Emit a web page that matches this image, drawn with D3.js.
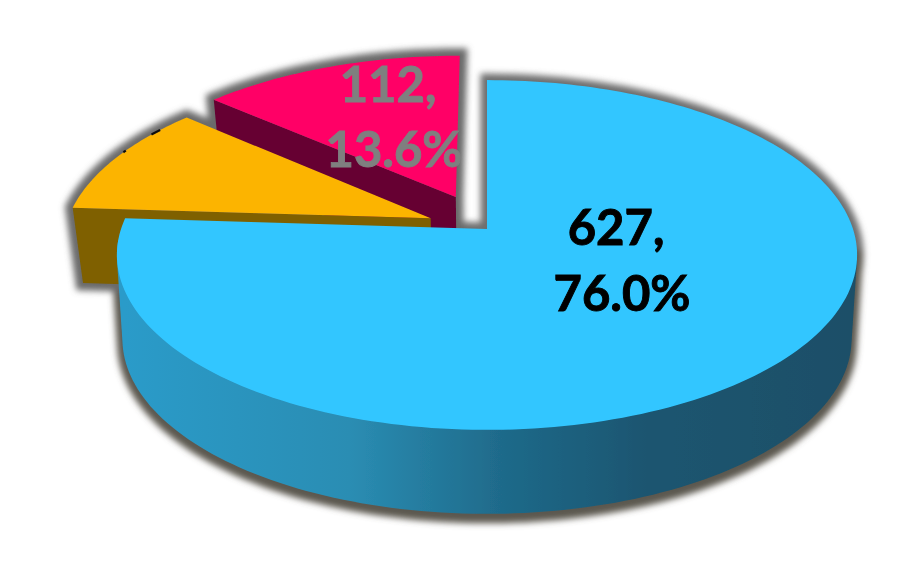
<!DOCTYPE html>
<html><head><meta charset="utf-8">
<script src="https://cdn.jsdelivr.net/npm/d3@7"></script>
<style>html,body{margin:0;padding:0;background:#fff}svg{display:block}</style>
</head><body><svg id="c" width="911" height="570"></svg>
<script>
// Data
const values = [627, 86, 112];
const explode = [0, 0.168, 0.212];
const topColors = ["#33c6ff", "#fcb406", "#ff0066"];
const wallColors = ["#2f9fce", "#7f6000", "#660033"];
const labelColors = ["#000000", "#000000", "#7f7f7f"];
const showLabel = [true, false, true];
const labelPos = [[619, 228, 294], null, [391, 85, 150]];
const gradientStops = [[0, "#2c9bc9"], [0.31, "#2a8db3"], [0.52, "#1f6a8a"], [0.72, "#1a5570"], [1, "#1a4f68"]];
const hiddenLabelBits = [[0.56, 0.58], [0.77, 0.83]];

const total = d3.sum(values);
const fmt = d3.format(".1%");
const pie = d3.pie().sort(null).value(d => d)(values);

// Perspective projection of the pie plane onto the screen
const cx = 487, cy = 229, A = 366, B = 171, k = 0.1486;
function project(x, z) {
  const w = 1 + k * z;
  return [cx + A * x / w, cy - B * z / w];
}
const bottomOf = (sx, sy, drop) => p => [cx + sx * (p[0] - cx), cy + sy * (p[1] - cy) + drop];
const bottom = bottomOf(0.975, 1.034, 76);
const bottomBlue = bottomOf(0.985, 1.0, 84);
function slicePts(i) {
  const s = pie[i], mid = (s.startAngle + s.endAngle) / 2;
  const ox = explode[i] * Math.sin(mid), oz = explode[i] * Math.cos(mid);
  const rim = (a) => project(ox + Math.sin(a), oz + Math.cos(a));
  const apex = project(ox, oz);
  return {s, rim, apex};
}
function arcPts(rim, a0, a1, n = 120) {
  return d3.range(n + 1).map(j => rim(a0 + (a1 - a0) * j / n));
}
const line = d3.line().curve(d3.curveLinear);
const closed = pts => line(pts) + "Z";

const svg = d3.select("#c");
const defs = svg.append("defs");
const f = defs.append("filter").attr("id", "glow").attr("x", "-20%").attr("y", "-20%").attr("width", "140%").attr("height", "140%");
f.append("feGaussianBlur").attr("stdDeviation", 3.4);
const soft = defs.append("filter").attr("id", "soft").attr("x", "-5%").attr("y", "-5%").attr("width", "110%").attr("height", "110%");
soft.append("feGaussianBlur").attr("stdDeviation", 0.7);
const xGrad = d3.scaleLinear().domain([0, 1]).range([125, 850]);
const grad = defs.append("linearGradient").attr("id", "wall").attr("gradientUnits", "userSpaceOnUse")
  .attr("x1", xGrad(0)).attr("x2", xGrad(1)).attr("y1", 0).attr("y2", 0);
gradientStops.forEach(d => grad.append("stop").attr("offset", d[0]).attr("stop-color", d[1]));

const root = svg.append("g").attr("filter", "url(#soft)");
const shadows = root.append("g").attr("filter", "url(#glow)");
const slices = values.map((_, i) => slicePts(i));

// The blue slice's side: hull of the near half of the top rim and its lower copy
const blueWall = () => {
  const b = slices[0];
  const t = arcPts(b.rim, 1.7, 4.65);
  return d3.polygonHull([...t, ...t.map(bottomBlue)]);
};

// Shadows behind all the faces
{
  const b = slices[0];
  shadows.append("path").attr("d", closed([...arcPts(b.rim, 0, b.s.endAngle), b.apex])).attr("fill", "#6e6e6e").attr("stroke", "#6e6e6e").attr("stroke-width", 13);
  shadows.append("path").attr("d", closed(blueWall())).attr("fill", "#5c5850").attr("transform", "translate(0,4)").attr("stroke", "#5c5850").attr("stroke-width", 11);
  [1, 2].forEach(i => {
    const p = slices[i];
    const t = arcPts(p.rim, p.s.startAngle, p.s.endAngle, 40);
    const corner = t[0];
    const sil = [...t, p.apex, bottom(p.apex), bottom(corner)];
    shadows.append("path").attr("d", closed(sil)).attr("fill", "#6a6a6a").attr("stroke", "#6a6a6a").attr("stroke-width", 15);
  });
}

// Faces: back slice first, blue slice last
[2, 1].forEach(i => {
  const p = slices[i];
  const corner = p.rim(p.s.startAngle);
  root.append("path").attr("d", closed([corner, p.apex, bottom(p.apex), bottom(corner)])).attr("fill", wallColors[i]);
  root.append("path").attr("d", closed([...arcPts(p.rim, p.s.startAngle, p.s.endAngle, 40), p.apex])).attr("fill", topColors[i]);
});
// Remnants of the yellow slice's label, which sits behind the slice
{
  const y = slices[1], span = y.s.endAngle - y.s.startAngle;
  hiddenLabelBits.forEach(b => {
    root.append("path").attr("d", line(arcPts(y.rim, y.s.startAngle + b[0] * span, y.s.startAngle + b[1] * span, 6)))
      .attr("fill", "none").attr("stroke", "#111").attr("stroke-width", 2.2);
  });
}
{
  const b = slices[0];
  root.append("path").attr("d", closed(blueWall())).attr("fill", "url(#wall)");
  root.append("path").attr("d", closed([...arcPts(b.rim, 0, b.s.endAngle, 200), b.apex])).attr("fill", topColors[0]);
}

// Labels
values.forEach((v, i) => {
  if (!showLabel[i]) return;
  const [x, y1, y2] = labelPos[i];
  const t = root.append("g").attr("font-family", "Lato, 'Open Sans', sans-serif").attr("font-weight", 700)
    .attr("font-size", 49).attr("fill", labelColors[i]).attr("stroke", labelColors[i]).attr("stroke-width", 0.9).attr("text-anchor", "middle");
  t.append("text").attr("x", x - 3).attr("y", y1 + 17).text(v + ",");
  t.append("text").attr("x", x + 3).attr("y", y2 + 17).text(fmt(v / total));
});
</script></body></html>
